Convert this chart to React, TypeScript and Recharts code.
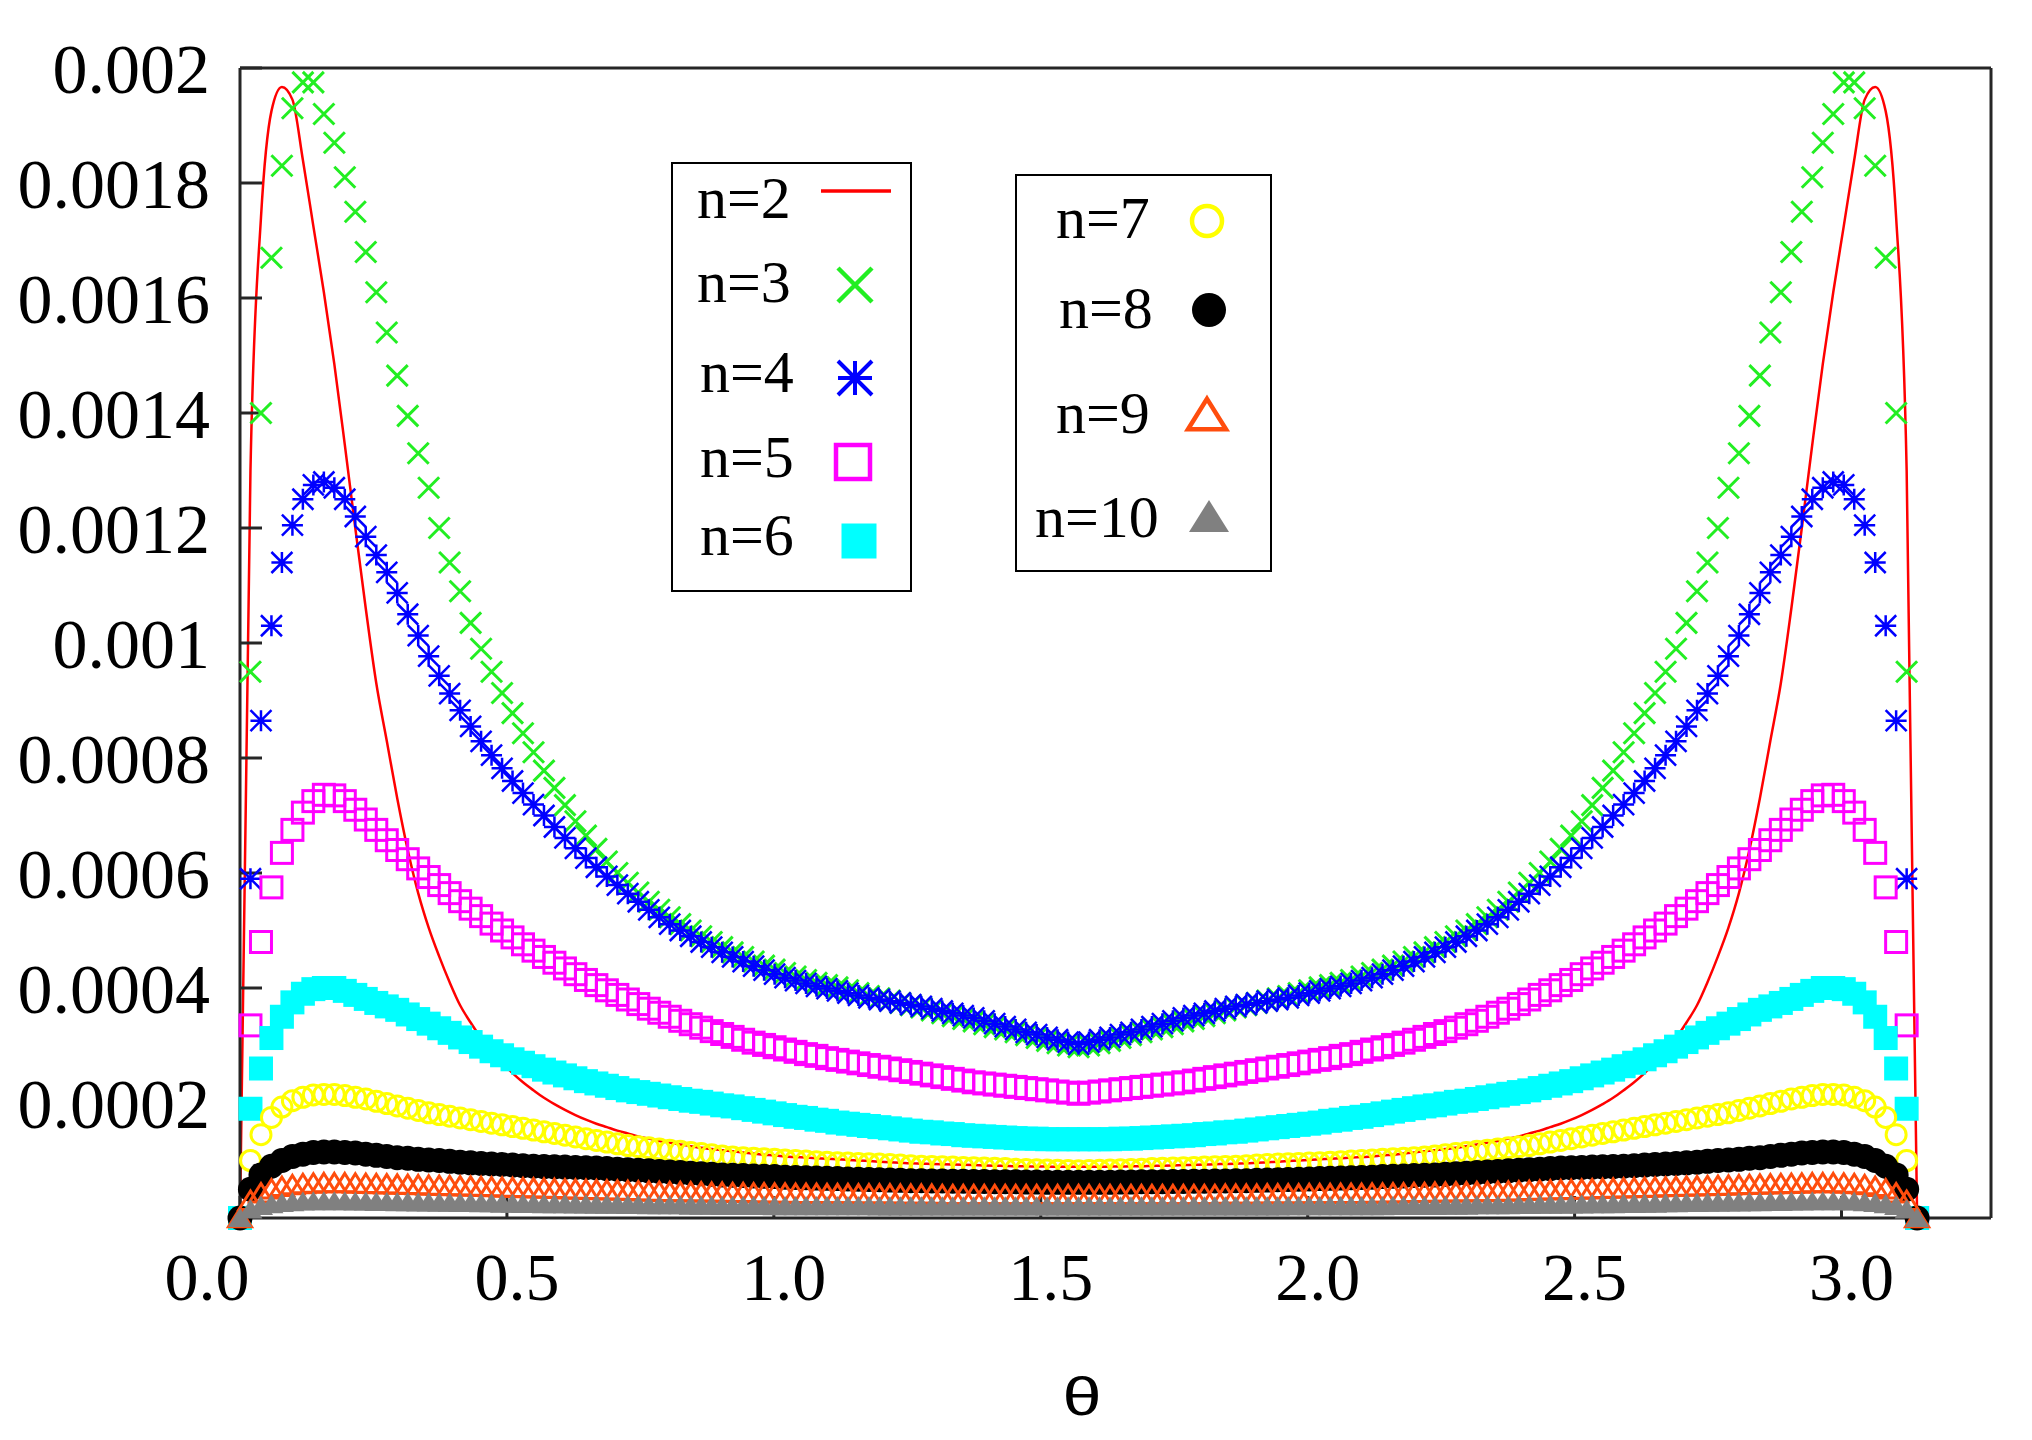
import React from "react"
import { ComposedChart, Line, XAxis, YAxis } from "recharts"

// sample grid (rad)
const THETA = [
  0, 0.0196, 0.0393, 0.0589, 0.0785, 0.0982, 0.1178, 0.1374, 0.1571, 0.1767,
  0.1963, 0.216, 0.2356, 0.2553, 0.2749, 0.2945, 0.3142, 0.3338, 0.3534, 0.3731,
  0.3927, 0.4123, 0.432, 0.4516, 0.4712, 0.4909, 0.5105, 0.5301, 0.5498, 0.5694,
  0.589, 0.6087, 0.6283, 0.648, 0.6676, 0.6872, 0.7069, 0.7265, 0.7461, 0.7658,
  0.7854, 0.805, 0.8247, 0.8443, 0.8639, 0.8836, 0.9032, 0.9228, 0.9425, 0.9621,
  0.9817, 1.0014, 1.021, 1.0407, 1.0603, 1.0799, 1.0996, 1.1192, 1.1388, 1.1585,
  1.1781, 1.1977, 1.2174, 1.237, 1.2566, 1.2763, 1.2959, 1.3155, 1.3352, 1.3548,
  1.3744, 1.3941, 1.4137, 1.4334, 1.453, 1.4726, 1.4923, 1.5119, 1.5315, 1.5512,
  1.5708,
  1.5904, 1.6101, 1.6297, 1.6493, 1.669, 1.6886, 1.7082, 1.7279, 1.7475, 1.7671,
  1.7868, 1.8064, 1.8261, 1.8457, 1.8653, 1.885, 1.9046, 1.9242, 1.9439, 1.9635,
  1.9831, 2.0028, 2.0224, 2.042, 2.0617, 2.0813, 2.1009, 2.1206, 2.1402, 2.1598,
  2.1795, 2.1991, 2.2188, 2.2384, 2.258, 2.2777, 2.2973, 2.3169, 2.3366, 2.3562,
  2.3758, 2.3955, 2.4151, 2.4347, 2.4544, 2.474, 2.4936, 2.5133, 2.5329, 2.5525,
  2.5722, 2.5918, 2.6115, 2.6311, 2.6507, 2.6704, 2.69, 2.7096, 2.7293, 2.7489,
  2.7685, 2.7882, 2.8078, 2.8274, 2.8471, 2.8667, 2.8863, 2.906, 2.9256, 2.9452,
  2.9649, 2.9845, 3.0042, 3.0238, 3.0434, 3.0631, 3.0827, 3.1023, 3.122, 3.1416,
]

// all series values below are in units of 1e-5
const UNIT = 1e-5

const N2 = [
  0, 130, 174, 192.5, 196.7, 194.5, 184, 172.5, 161, 148.5,
  134.5, 120, 106, 93, 83, 73, 64, 56.5, 50.5, 45.5,
  41, 37, 34, 31.3, 29, 27, 25.2, 23.6, 22.2, 20.9,
  19.8, 18.8, 17.9, 17.1, 16.4, 15.8, 15.2, 14.7, 14.2, 13.8,
  13.4, 13.1, 12.8, 12.5, 12.2, 12, 11.8, 11.6, 11.4, 11.2,
  11, 10.9, 10.7, 10.6, 10.5, 10.4, 10.3, 10.2, 10.1, 10,
  9.9, 9.8, 9.7, 9.6, 9.5, 9.45, 9.4, 9.35, 9.3, 9.25,
  9.2, 9.15, 9.1, 9.05, 9, 9, 8.95, 8.95, 8.9, 8.9,
  8.9,
  8.9, 8.9, 8.95, 8.95, 9, 9, 9.05, 9.1, 9.15, 9.2,
  9.25, 9.3, 9.35, 9.4, 9.45, 9.5, 9.6, 9.7, 9.8, 9.9,
  10, 10.1, 10.2, 10.3, 10.4, 10.5, 10.6, 10.7, 10.9, 11,
  11.2, 11.4, 11.6, 11.8, 12, 12.2, 12.5, 12.8, 13.1, 13.4,
  13.8, 14.2, 14.7, 15.2, 15.8, 16.4, 17.1, 17.9, 18.8, 19.8,
  20.9, 22.2, 23.6, 25.2, 27, 29, 31.3, 34, 37, 41,
  45.5, 50.5, 56.5, 64, 73, 83, 93, 106, 120, 134.5,
  148.5, 161, 172.5, 184, 194.5, 196.7, 192.5, 174, 130, 0,
]

const N3 = [
  0, 95, 140, 167, 183, 193, 197.5, 197.5, 192, 187,
  181, 175, 168, 161, 154, 146.5, 139.5, 133, 127, 120,
  114, 109, 103.5, 99, 95, 91.3, 87.8, 84.3, 81, 77.8,
  74.8, 71.8, 69, 66.5, 64.2, 62, 60, 58.3, 56.6, 55,
  53.6, 52.3, 51.1, 50, 49, 48, 47.1, 46.2, 45.4, 44.6,
  43.9, 43.2, 42.6, 42, 41.4, 40.9, 40.5, 40.1, 39.6, 39.1,
  38.6, 38.2, 37.8, 37.4, 37, 36.6, 36.1, 35.6, 35.1, 34.6,
  34.2, 33.7, 33.2, 32.8, 32.3, 31.8, 31.3, 30.8, 30.4, 30,
  29.7,
  30, 30.4, 30.8, 31.3, 31.8, 32.3, 32.8, 33.2, 33.7, 34.2,
  34.6, 35.1, 35.6, 36.1, 36.6, 37, 37.4, 37.8, 38.2, 38.6,
  39.1, 39.6, 40.1, 40.5, 40.9, 41.4, 42, 42.6, 43.2, 43.9,
  44.6, 45.4, 46.2, 47.1, 48, 49, 50, 51.1, 52.3, 53.6,
  55, 56.6, 58.3, 60, 62, 64.2, 66.5, 69, 71.8, 74.8,
  77.8, 81, 84.3, 87.8, 91.3, 95, 99, 103.5, 109, 114,
  120, 127, 133, 139.5, 146.5, 154, 161, 168, 175, 181,
  187, 192, 197.5, 197.5, 193, 183, 167, 140, 95, 0,
]

const N4 = [
  0, 59, 86.5, 103, 114, 120.5, 125, 127.5, 128, 127,
  125, 122, 118.5, 115.3, 112.3, 108.7, 105, 101.3, 97.7, 94.3,
  91.2, 88.3, 85.5, 82.9, 80.5, 78.2, 76, 73.9, 71.9, 70,
  68, 66.1, 64.3, 62.6, 61, 59.4, 57.9, 56.4, 55, 53.6,
  52.3, 51.1, 50, 49, 48, 47.1, 46.2, 45.4, 44.6, 43.8,
  43.1, 42.4, 41.8, 41.3, 40.8, 40.3, 39.9, 39.5, 39.1, 38.7,
  38.3, 38, 37.7, 37.4, 37.1, 36.8, 36.4, 36, 35.6, 35.2,
  34.8, 34.3, 33.8, 33.3, 32.8, 32.3, 31.9, 31.4, 31, 30.6,
  30.2,
  30.6, 31, 31.4, 31.9, 32.3, 32.8, 33.3, 33.8, 34.3, 34.8,
  35.2, 35.6, 36, 36.4, 36.8, 37.1, 37.4, 37.7, 38, 38.3,
  38.7, 39.1, 39.5, 39.9, 40.3, 40.8, 41.3, 41.8, 42.4, 43.1,
  43.8, 44.6, 45.4, 46.2, 47.1, 48, 49, 50, 51.1, 52.3,
  53.6, 55, 56.4, 57.9, 59.4, 61, 62.6, 64.3, 66.1, 68,
  70, 71.9, 73.9, 76, 78.2, 80.5, 82.9, 85.5, 88.3, 91.2,
  94.3, 97.7, 101.3, 105, 108.7, 112.3, 115.3, 118.5, 122, 125,
  127, 128, 127.5, 125, 120.5, 114, 103, 86.5, 59, 0,
]

const N5 = [
  0, 33.5, 48, 57.5, 63.5, 67.5, 70.5, 72.5, 73.6, 73.5,
  72.5, 71, 69.3, 67.5, 65.7, 64, 62.4, 60.8, 59.3, 57.9,
  56.5, 55.1, 53.8, 52.5, 51.2, 50, 48.8, 47.6, 46.5, 45.4,
  44.4, 43.4, 42.4, 41.4, 40.5, 39.6, 38.8, 38, 37.2, 36.4,
  35.7, 35, 34.3, 33.7, 33.1, 32.5, 32, 31.5, 31, 30.5,
  30.1, 29.7, 29.3, 28.9, 28.5, 28.2, 27.8, 27.5, 27.2, 26.9,
  26.6, 26.3, 26, 25.7, 25.4, 25.1, 24.8, 24.5, 24.2, 23.9,
  23.6, 23.4, 23.2, 23, 22.8, 22.6, 22.4, 22.2, 22, 21.8,
  21.6,
  21.8, 22, 22.2, 22.4, 22.6, 22.8, 23, 23.2, 23.4, 23.6,
  23.9, 24.2, 24.5, 24.8, 25.1, 25.4, 25.7, 26, 26.3, 26.6,
  26.9, 27.2, 27.5, 27.8, 28.2, 28.5, 28.9, 29.3, 29.7, 30.1,
  30.5, 31, 31.5, 32, 32.5, 33.1, 33.7, 34.3, 35, 35.7,
  36.4, 37.2, 38, 38.8, 39.6, 40.5, 41.4, 42.4, 43.4, 44.4,
  45.4, 46.5, 47.6, 48.8, 50, 51.2, 52.5, 53.8, 55.1, 56.5,
  57.9, 59.3, 60.8, 62.4, 64, 65.7, 67.5, 69.3, 71, 72.5,
  73.5, 73.6, 72.5, 70.5, 67.5, 63.5, 57.5, 48, 33.5, 0,
]

const N6 = [
  0, 19, 26, 31.3, 35, 37.5, 39, 39.8, 40, 40,
  39.5, 38.8, 38.1, 37.4, 36.8, 36.2, 35.4, 34.6, 33.8, 33,
  32.2, 31.4, 30.6, 29.8, 29, 28.3, 27.6, 27, 26.4, 25.8,
  25.3, 24.8, 24.3, 23.8, 23.4, 23, 22.6, 22.2, 21.9, 21.6,
  21.3, 21, 20.7, 20.4, 20.2, 19.9, 19.6, 19.4, 19.1, 18.8,
  18.5, 18.2, 17.9, 17.6, 17.4, 17.1, 16.9, 16.6, 16.4, 16.2,
  16, 15.8, 15.6, 15.4, 15.2, 15, 14.9, 14.7, 14.6, 14.4,
  14.3, 14.2, 14.1, 14, 13.9, 13.8, 13.8, 13.7, 13.7, 13.7,
  13.7,
  13.7, 13.7, 13.7, 13.8, 13.8, 13.9, 14, 14.1, 14.2, 14.3,
  14.4, 14.6, 14.7, 14.9, 15, 15.2, 15.4, 15.6, 15.8, 16,
  16.2, 16.4, 16.6, 16.9, 17.1, 17.4, 17.6, 17.9, 18.2, 18.5,
  18.8, 19.1, 19.4, 19.6, 19.9, 20.2, 20.4, 20.7, 21, 21.3,
  21.6, 21.9, 22.2, 22.6, 23, 23.4, 23.8, 24.3, 24.8, 25.3,
  25.8, 26.4, 27, 27.6, 28.3, 29, 29.8, 30.6, 31.4, 32.2,
  33, 33.8, 34.6, 35.4, 36.2, 36.8, 37.4, 38.1, 38.8, 39.5,
  40, 40, 39.8, 39, 37.5, 35, 31.3, 26, 19, 0,
]

const N7 = [
  0, 10, 14.5, 17.5, 19.3, 20.4, 21, 21.4, 21.5, 21.5,
  21.3, 21, 20.7, 20.3, 19.9, 19.5, 19.1, 18.7, 18.3, 18,
  17.7, 17.4, 17.1, 16.8, 16.5, 16.2, 15.9, 15.6, 15.3, 15,
  14.7, 14.4, 14.1, 13.8, 13.5, 13.2, 12.9, 12.6, 12.4, 12.2,
  12, 11.8, 11.6, 11.4, 11.2, 11, 10.8, 10.6, 10.5, 10.4,
  10.3, 10.2, 10.1, 10, 9.9, 9.8, 9.7, 9.6, 9.55, 9.5,
  9.45, 9.4, 9.3, 9.2, 9.1, 9, 8.95, 8.9, 8.85, 8.8,
  8.75, 8.7, 8.65, 8.6, 8.5, 8.45, 8.4, 8.35, 8.3, 8.25,
  8.2,
  8.25, 8.3, 8.35, 8.4, 8.45, 8.5, 8.6, 8.65, 8.7, 8.75,
  8.8, 8.85, 8.9, 8.95, 9, 9.1, 9.2, 9.3, 9.4, 9.45,
  9.5, 9.55, 9.6, 9.7, 9.8, 9.9, 10, 10.1, 10.2, 10.3,
  10.4, 10.5, 10.6, 10.8, 11, 11.2, 11.4, 11.6, 11.8, 12,
  12.2, 12.4, 12.6, 12.9, 13.2, 13.5, 13.8, 14.1, 14.4, 14.7,
  15, 15.3, 15.6, 15.9, 16.2, 16.5, 16.8, 17.1, 17.4, 17.7,
  18, 18.3, 18.7, 19.1, 19.5, 19.9, 20.3, 20.7, 21, 21.3,
  21.5, 21.5, 21.4, 21, 20.4, 19.3, 17.5, 14.5, 10, 0,
]

const N8 = [
  0, 5, 7.5, 9, 10, 10.7, 11.1, 11.4, 11.5, 11.5,
  11.4, 11.3, 11.1, 10.9, 10.7, 10.5, 10.4, 10.2, 10.1, 10,
  9.85, 9.7, 9.6, 9.5, 9.4, 9.3, 9.2, 9.1, 9, 8.95,
  8.9, 8.85, 8.8, 8.75, 8.7, 8.6, 8.5, 8.4, 8.3, 8.2,
  8.1, 8, 7.9, 7.8, 7.7, 7.6, 7.5, 7.45, 7.4, 7.3,
  7.25, 7.2, 7.1, 7.05, 7, 6.95, 6.9, 6.85, 6.8, 6.75,
  6.7, 6.65, 6.6, 6.55, 6.5, 6.5, 6.45, 6.45, 6.4, 6.4,
  6.35, 6.35, 6.3, 6.3, 6.3, 6.25, 6.25, 6.2, 6.2, 6.2,
  6.2,
  6.2, 6.2, 6.2, 6.25, 6.25, 6.3, 6.3, 6.3, 6.35, 6.35,
  6.4, 6.4, 6.45, 6.45, 6.5, 6.5, 6.55, 6.6, 6.65, 6.7,
  6.75, 6.8, 6.85, 6.9, 6.95, 7, 7.05, 7.1, 7.2, 7.25,
  7.3, 7.4, 7.45, 7.5, 7.6, 7.7, 7.8, 7.9, 8, 8.1,
  8.2, 8.3, 8.4, 8.5, 8.6, 8.7, 8.75, 8.8, 8.85, 8.9,
  8.95, 9, 9.1, 9.2, 9.3, 9.4, 9.5, 9.6, 9.7, 9.85,
  10, 10.1, 10.2, 10.4, 10.5, 10.7, 10.9, 11.1, 11.3, 11.4,
  11.5, 11.5, 11.4, 11.1, 10.7, 10, 9, 7.5, 5, 0,
]

const N9 = [
  0, 3, 4.3, 5, 5.4, 5.7, 5.9, 6, 6.05, 6.05,
  6.05, 6, 5.95, 5.9, 5.85, 5.8, 5.75, 5.7, 5.65, 5.6,
  5.55, 5.5, 5.45, 5.4, 5.35, 5.3, 5.25, 5.2, 5.15, 5.1,
  5.05, 5, 4.95, 4.9, 4.85, 4.8, 4.75, 4.7, 4.65, 4.6,
  4.55, 4.5, 4.5, 4.45, 4.45, 4.4, 4.4, 4.35, 4.35, 4.3,
  4.3, 4.25, 4.25, 4.2, 4.2, 4.2, 4.15, 4.15, 4.15, 4.1,
  4.1, 4.1, 4.1, 4.05, 4.05, 4.05, 4.05, 4, 4, 4,
  4, 4, 4, 4, 4, 4, 4, 4, 4, 4,
  4,
  4, 4, 4, 4, 4, 4, 4, 4, 4, 4,
  4, 4, 4, 4.05, 4.05, 4.05, 4.05, 4.1, 4.1, 4.1,
  4.1, 4.15, 4.15, 4.15, 4.2, 4.2, 4.2, 4.25, 4.25, 4.3,
  4.3, 4.35, 4.35, 4.4, 4.4, 4.45, 4.45, 4.5, 4.5, 4.55,
  4.6, 4.65, 4.7, 4.75, 4.8, 4.85, 4.9, 4.95, 5, 5.05,
  5.1, 5.15, 5.2, 5.25, 5.3, 5.35, 5.4, 5.45, 5.5, 5.55,
  5.6, 5.65, 5.7, 5.75, 5.8, 5.85, 5.9, 5.95, 6, 6.05,
  6.05, 6.05, 6, 5.9, 5.7, 5.4, 5, 4.3, 3, 0,
]

const N10 = [
  0, 1.5, 2.1, 2.4, 2.6, 2.75, 2.85, 2.9, 2.9, 2.9,
  2.9, 2.85, 2.85, 2.8, 2.8, 2.75, 2.75, 2.7, 2.7, 2.65,
  2.65, 2.6, 2.6, 2.55, 2.55, 2.5, 2.5, 2.45, 2.45, 2.4,
  2.4, 2.4, 2.35, 2.35, 2.3, 2.3, 2.3, 2.25, 2.25, 2.2,
  2.2, 2.2, 2.2, 2.15, 2.15, 2.15, 2.1, 2.1, 2.1, 2.1,
  2.1, 2.05, 2.05, 2.05, 2.05, 2.05, 2.05, 2.05, 2.05, 2.05,
  2.05, 2, 2, 2, 2, 2, 2, 2, 2, 2,
  2, 2, 2, 2, 2, 2, 2, 2, 2, 2,
  2,
  2, 2, 2, 2, 2, 2, 2, 2, 2, 2,
  2, 2, 2, 2, 2, 2, 2, 2, 2, 2.05,
  2.05, 2.05, 2.05, 2.05, 2.05, 2.05, 2.05, 2.05, 2.05, 2.1,
  2.1, 2.1, 2.1, 2.1, 2.15, 2.15, 2.15, 2.2, 2.2, 2.2,
  2.2, 2.25, 2.25, 2.3, 2.3, 2.3, 2.35, 2.35, 2.4, 2.4,
  2.4, 2.45, 2.45, 2.5, 2.5, 2.55, 2.55, 2.6, 2.6, 2.65,
  2.65, 2.7, 2.7, 2.75, 2.75, 2.8, 2.8, 2.85, 2.85, 2.9,
  2.9, 2.9, 2.9, 2.85, 2.75, 2.6, 2.4, 2.1, 1.5, 0,
]

const X_TICKS = [0, 0.5, 1, 1.5, 2, 2.5, 3]
const X_TICK_LABELS = ["0.0", "0.5", "1.0", "1.5", "2.0", "2.5", "3.0"]
const Y_TICKS = [0.0002, 0.0004, 0.0006, 0.0008, 0.001, 0.0012, 0.0014, 0.0016, 0.0018, 0.002]
const Y_TICK_LABELS = ["0.0002", "0.0004", "0.0006", "0.0008", "0.001", "0.0012", "0.0014", "0.0016", "0.0018", "0.002"]

const SERIES = [
  { key: "n2", label: "n=2", values: N2, shape: "line", color: "#ff0000" },
  { key: "n3", label: "n=3", values: N3, shape: "cross", color: "#22ee22" },
  { key: "n4", label: "n=4", values: N4, shape: "star", color: "#0000ff" },
  { key: "n5", label: "n=5", values: N5, shape: "square", color: "#ff00ff" },
  { key: "n6", label: "n=6", values: N6, shape: "squareFilled", color: "#00ffff" },
  { key: "n7", label: "n=7", values: N7, shape: "circle", color: "#ffff00" },
  { key: "n8", label: "n=8", values: N8, shape: "circleFilled", color: "#000000" },
  { key: "n9", label: "n=9", values: N9, shape: "triangle", color: "#ff4d0d" },
  { key: "n10", label: "n=10", values: N10, shape: "triangleFilled", color: "#808080" },
]

const tableData = THETA.map((t, i) => {
  const row: any = { theta: t }
  SERIES.forEach((s) => { row[s.key] = s.values[i] * UNIT })
  return row
})

const SERIF = '"Liberation Serif", "Times New Roman", serif'
const FRAME = "#262626"

function Marker({ shape, cx, cy, s, color, sw }) {
  switch (shape) {
    case "line":
      return <line x1={cx - s} x2={cx + s} y1={cy} y2={cy} stroke={color} strokeWidth={sw} />
    case "cross":
      return <path d={`M${cx - s},${cy - s}L${cx + s},${cy + s}M${cx - s},${cy + s}L${cx + s},${cy - s}`} stroke={color} strokeWidth={sw} fill="none" />
    case "star":
      return (
        <path
          d={`M${cx - s},${cy - s}L${cx + s},${cy + s}M${cx - s},${cy + s}L${cx + s},${cy - s}M${cx},${cy - s}L${cx},${cy + s}M${cx - s},${cy}L${cx + s},${cy}`}
          stroke={color} strokeWidth={sw} fill="none"
        />
      )
    case "square":
      return <rect x={cx - s} y={cy - s} width={2 * s} height={2 * s} stroke={color} strokeWidth={sw} fill="none" />
    case "squareFilled":
      return <rect x={cx - s} y={cy - s} width={2 * s} height={2 * s} fill={color} />
    case "circle":
      return <circle cx={cx} cy={cy} r={s} stroke={color} strokeWidth={sw} fill="none" />
    case "circleFilled":
      return <circle cx={cx} cy={cy} r={s} fill={color} />
    case "triangle":
      return <polygon points={`${cx},${cy - s * 0.85} ${cx + s},${cy + s * 0.75} ${cx - s},${cy + s * 0.75}`} stroke={color} strokeWidth={sw} fill="none" />
    case "triangleFilled":
      return <polygon points={`${cx},${cy - s * 0.85} ${cx + s},${cy + s * 0.75} ${cx - s},${cy + s * 0.75}`} fill={color} />
    default:
      return null
  }
}

// marker size / stroke in the plot
const PLOT_MARK = {
  cross: [10.5, 3], star: [10.5, 2.5], square: [10.5, 3], squareFilled: [12, 0],
  circle: [10, 3], circleFilled: [12.5, 0], triangle: [11.5, 3], triangleFilled: [12, 0],
}
// marker size / stroke in the legend boxes
const LEGEND_MARK = {
  line: [35, 3.5], cross: [17, 4.5], star: [17, 4], square: [17, 4.5], squareFilled: [17.5, 0],
  circle: [15, 4.5], circleFilled: [17, 0], triangle: [19, 4.5], triangleFilled: [20, 0],
}

const makeDot = (s) => (p) => {
  if (p.cx == null || p.cy == null) return <g key={`${s.key}-${p.index}`} />
  const [size, sw] = PLOT_MARK[s.shape]
  return (
    <g key={`${s.key}-${p.index}`}>
      <Marker shape={s.shape} cx={p.cx} cy={p.cy} s={size} color={s.color} sw={sw} />
    </g>
  )
}

const YTick = ({ x, y, payload }) => {
  const i = Y_TICKS.indexOf(payload.value)
  return (
    <text x={x} y={y} dy="0.36em" textAnchor="end" fontSize={70} fontFamily={SERIF} fill="#000">
      {Y_TICK_LABELS[i]}
    </text>
  )
}

const XTick = ({ x, y, payload }) => {
  const i = X_TICKS.indexOf(payload.value)
  return (
    <text x={x + (i === 0 ? -33 : 10)} y={y + 104} textAnchor="middle" fontSize={68} fontFamily={SERIF} fill="#000">
      {X_TICK_LABELS[i]}
    </text>
  )
}

// legend layout: [series index, text x, text baseline, symbol x, symbol y]
const LEGEND_A = [[0, 697, 218, 856, 191], [1, 697, 302, 855, 285], [2, 700, 392, 855, 378], [3, 700, 477, 853, 462], [4, 700, 555, 859, 541]]
const LEGEND_B = [[5, 1056, 238, 1207, 221], [6, 1059, 328, 1209, 310], [7, 1056, 433, 1207, 415], [8, 1035, 537, 1209, 517]]

function LegendBox({ x, y, w, h, rows }) {
  return (
    <g>
      <rect x={x} y={y} width={w} height={h} fill="#fff" stroke="#000" strokeWidth={2} />
      {rows.map(([si, tx, ty, mx, my]) => {
        const s = SERIES[si]
        const [size, sw] = LEGEND_MARK[s.shape]
        return (
          <g key={s.key}>
            <text x={tx} y={ty} fontSize={60} fontFamily={SERIF} fill="#000">{s.label}</text>
            <Marker shape={s.shape} cx={mx} cy={my} s={size} color={s.color} sw={sw} />
          </g>
        )
      })}
    </g>
  )
}

export default function App() {
  const axisStroke = { stroke: FRAME, strokeWidth: 3 }
  return (
    <div style={{ position: "absolute", left: 0, top: 0, width: 2032, height: 1440, background: "#fff" }}>
      <ComposedChart width={2032} height={1440} data={tableData} margin={{ top: 67, right: 40, bottom: 0, left: 0 }}>
        <XAxis
          dataKey="theta" type="number" domain={[0, 3.28]} ticks={X_TICKS} interval={0}
          height={222} tickSize={-22} tickMargin={0} axisLine={axisStroke} tickLine={axisStroke} tick={<XTick />}
        />
        <XAxis
          xAxisId="top" orientation="top" dataKey="theta" type="number" domain={[0, 3.28]} ticks={X_TICKS} interval={0}
          height={1} tickSize={-22} axisLine={axisStroke} tickLine={axisStroke} tick={false}
        />
        <YAxis
          type="number" domain={[0, 0.002]} ticks={Y_TICKS} interval={0}
          width={240} tickSize={-22} tickMargin={52} axisLine={axisStroke} tickLine={axisStroke} tick={<YTick />}
        />
        <YAxis
          yAxisId="right" orientation="right" type="number" domain={[0, 0.002]} ticks={Y_TICKS} interval={0}
          width={1} tickSize={-22} axisLine={axisStroke} tickLine={axisStroke} tick={false}
        />

        {/* helper so the top / right frame axes have an item */}
        <Line xAxisId="top" yAxisId="right" dataKey="n2" stroke="none" dot={false} activeDot={false} isAnimationActive={false} />

        <Line type="monotone" dataKey="n2" stroke="#ff0000" strokeWidth={2.5} dot={false} activeDot={false} isAnimationActive={false} />
        {SERIES.slice(1).map((s) => (
          <Line
            key={s.key}
            dataKey={s.key}
            stroke="none"
            dot={makeDot(s)}
            activeDot={false}
            isAnimationActive={false}
          />
        ))}
      </ComposedChart>

      <svg width={2032} height={1440} style={{ position: "absolute", left: 0, top: 0, pointerEvents: "none" }}>
        <LegendBox x={672} y={163} w={239} h={428} rows={LEGEND_A} />
        <LegendBox x={1016} y={175} w={255} h={396} rows={LEGEND_B} />
        <text x={0} y={0} transform="translate(1082,1415) scale(1.3,1)" textAnchor="middle" fontSize={54} fontFamily='"Liberation Sans", Arial, sans-serif' fill="#000">
          θ
        </text>
      </svg>
    </div>
  )
}
